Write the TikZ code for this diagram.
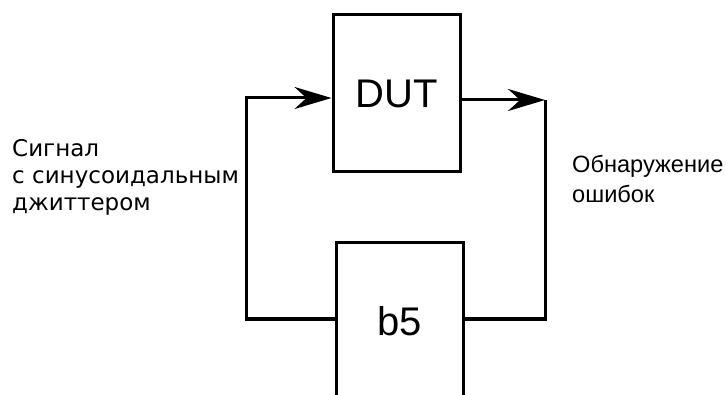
\documentclass[tikz,border=0pt]{standalone}
\usepackage{fontspec}
\setmainfont{Liberation Sans}
\newfontfamily\dejavu{DejaVu Sans}
\usetikzlibrary{arrows.meta}
\begin{document}
\begin{tikzpicture}[x=1pt,y=1pt,
  box/.style={draw, line width=3pt, minimum width=127pt, minimum height=157pt, inner sep=0pt, font=\fontsize{40}{48}\selectfont},
  wire/.style={line width=3pt, line join=miter},
  arr/.style={-{Stealth[length=37pt,width=22pt,inset=12pt]}},
  lbl/.style={inner sep=0pt, align=left}]
\useasboundingbox (0,0) rectangle (726,394);
\node[box] (dut) at (396.5,300.5) {DUT};
\node[box] (b5) at (400,73) {b5};
\coordinate (lt) at (246,296);
\coordinate (lb) at (246,75);
\coordinate (rt) at (545,294);
\coordinate (rb) at (545,75);
\draw[wire,arr] (lb -| b5.west) -- (lb) -- (lt) -- (lt -| dut.west);
\draw[wire,arr] (dut.east |- rt) -- (rt);
\draw[wire] (b5.east |- rb) -- (rb) -- (rt);
\node[lbl, anchor=base west, font=\dejavu\fontsize{23}{27}\selectfont] (sig) at (12,183) {Сигнал\\с синусоидальным\\джиттером};
\node[lbl, anchor=base west, font=\fontsize{23.6}{30}\selectfont] (err) at (572,191) {Обнаружение\\ошибок};
\end{tikzpicture}
\end{document}
